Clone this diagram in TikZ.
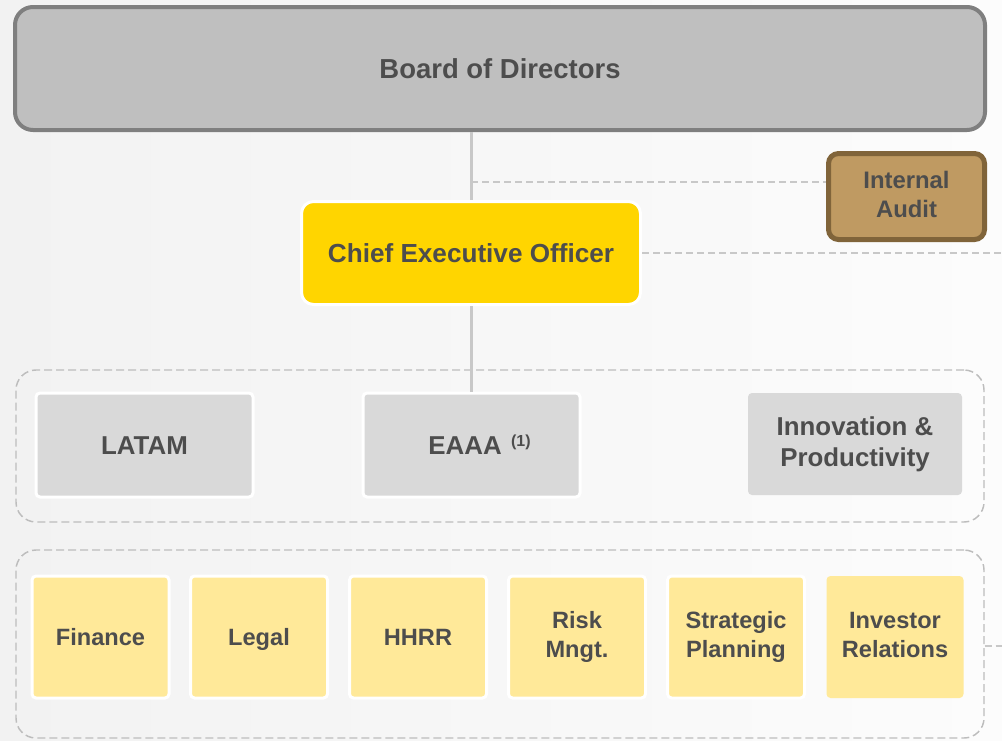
\documentclass[tikz,border=0pt]{standalone}
\usepackage{fontspec}
\setmainfont{Liberation Sans}
\definecolor{bgl}{HTML}{F2F2F2}
\definecolor{bgr}{HTML}{FCFCFC}
\definecolor{boardfill}{HTML}{BFBFBF}
\definecolor{boardline}{HTML}{7F7F7F}
\definecolor{ceofill}{HTML}{FFD500}
\definecolor{iafill}{HTML}{BF9A62}
\definecolor{ialine}{HTML}{80643A}
\definecolor{grayfill}{HTML}{D9D9D9}
\definecolor{yellowfill}{HTML}{FFE999}
\definecolor{txtgray}{HTML}{4D4D4D}
\definecolor{linegray}{HTML}{C8C8C8}
\definecolor{dashgray}{HTML}{BDBDBD}
\newcommand{\lastline}{\vphantom{g}}
\begin{document}
\begin{tikzpicture}[x=0.75pt,y=-0.75pt,
  box/.style={inner sep=0pt,text=txtgray,align=center},
  oneline/.style={text height=#1,text depth=0pt},
  boardbox/.style={box,fill=boardfill,draw=boardline,line width=3pt,rounded corners=13.5pt,
    minimum width=727.5pt,minimum height=92.25pt,font=\fontsize{20.6pt}{24pt}\selectfont\bfseries},
  ceobox/.style={box,fill=ceofill,draw=white,line width=2.25pt,rounded corners=9pt,
    minimum width=254.25pt,minimum height=77.25pt,font=\fontsize{19.6pt}{23pt}\selectfont\bfseries},
  iabox/.style={box,fill=iafill,draw=ialine,line width=3.75pt,rounded corners=7.5pt,
    minimum width=117pt,minimum height=64.5pt,font=\fontsize{17.9pt}{21.75pt}\selectfont\bfseries},
  regionbox/.style={box,fill=grayfill,rounded corners=3pt,
    minimum width=162.75pt,minimum height=78pt,font=\fontsize{19.4pt}{23.25pt}\selectfont\bfseries},
  whiteedge/.style={draw=white,line width=2.25pt},
  staffbox/.style={box,fill=yellowfill,rounded corners=3pt,
    minimum width=102.75pt,minimum height=91.5pt,font=\fontsize{17.7pt}{21.75pt}\selectfont\bfseries},
  groupbox/.style={draw=dashgray,line width=1.1pt,dash pattern=on 6pt off 3pt,rounded corners=15pt,
    minimum width=726pt,inner sep=0pt},
  solidlink/.style={draw=linegray,line width=2.25pt},
  dashlink/.style={draw=linegray,line width=1.5pt,dash pattern=on 5.25pt off 3pt},
]
\useasboundingbox (0,0) rectangle (1002,740);
\shade[left color=bgl,right color=bgr] (0,0) rectangle (1002,740);

% groups
\node[groupbox,minimum height=114pt] (g1) at (500,446) {};
\node[groupbox,minimum height=141pt] (g2) at (500,644) {};

% main nodes
\node[boardbox,oneline=14.8pt] (board) at (500,68.5) {Board of Directors};
\node[ceobox,oneline=14pt] (ceo) at (471,253) {Chief Executive Officer};
\node[iabox] (ia) at (906.5,196.5) {Internal\\Audit\lastline};

\node[regionbox,whiteedge,oneline=13.9pt] (latam) at (144.5,445) {LATAM};
\node[regionbox,whiteedge,oneline=13.9pt] (eaaa) at (471.5,445) {\hspace*{12pt}EAAA\hspace{7pt}\raisebox{0.6ex}{\fontsize{12pt}{14pt}\selectfont(1)}};
\node[regionbox,minimum width=160.5pt,minimum height=76.5pt] (innov) at (855,444) {Innovation \&\\Productivity};

\node[staffbox,whiteedge,oneline=12.7pt] (fin) at (100.5,637) {Finance};
\node[staffbox,whiteedge,oneline=12.7pt] (legal) at (259,637) {Legal};
\node[staffbox,whiteedge,oneline=12.7pt] (hhrr) at (418,637) {HHRR};
\node[staffbox,whiteedge] (risk) at (577,637) {Risk\\Mngt.\lastline};
\node[staffbox,whiteedge] (strat) at (736,637) {Strategic\\Planning\lastline};
\node[staffbox] (inv) at (895,637) {Investor\\Relations\lastline};

% connectors
\coordinate (j1) at (471,182);
\coordinate (ceoout) at (1002,253);
\coordinate (g2out) at (1002,646);
\draw[solidlink] (board.south -| ceo.north) -- (ceo.north);
\draw[solidlink] (ceo.south) -- (eaaa.north -| ceo.south);
\draw[dashlink] (j1) -- (j1 -| ia.west);
\draw[dashlink] (ceo.east) -- (ceoout);
\draw[dashlink] (g2.east |- g2out) -- (g2out);
\end{tikzpicture}
\end{document}
